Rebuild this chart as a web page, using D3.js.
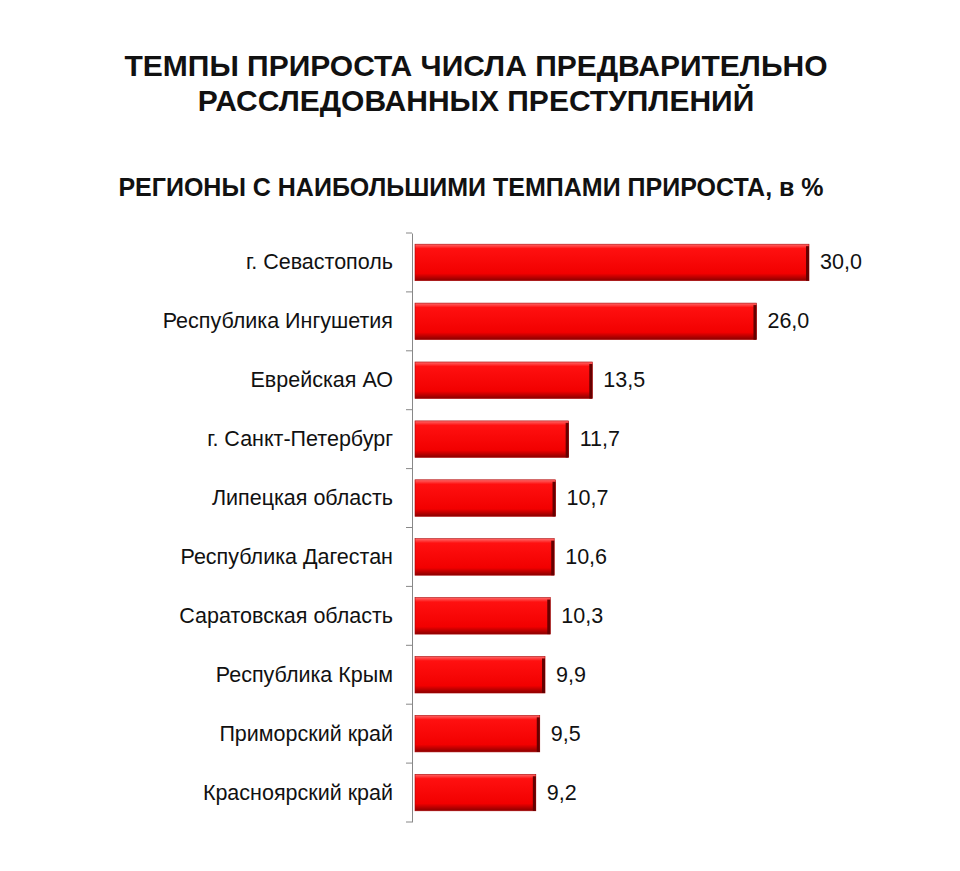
<!DOCTYPE html><html><head><meta charset="utf-8"><script src="https://cdn.jsdelivr.net/npm/d3@7"></script>
<style>body{margin:0;background:#fff}</style></head><body><svg id="c" width="960" height="871"></svg><script>
const categories=["г. Севастополь","Республика Ингушетия","Еврейская АО","г. Санкт-Петербург","Липецкая область","Республика Дагестан","Саратовская область","Республика Крым","Приморский край","Красноярский край"];
const values=[30.0,26.0,13.5,11.7,10.7,10.6,10.3,9.9,9.5,9.2];
const svg=d3.select("#c");const F="Liberation Sans, Arial, sans-serif";
const defs=svg.append("defs");
const g=defs.append("linearGradient").attr("id","bg").attr("x1",0).attr("y1",0).attr("x2",0).attr("y2",1);
[[0,"#ff6a6a"],[0.12,"#ff1010"],[0.8,"#f20000"],[1,"#8a0000"]].forEach(s=>g.append("stop").attr("offset",s[0]).attr("stop-color",s[1]));
[["ТЕМПЫ ПРИРОСТА ЧИСЛА ПРЕДВАРИТЕЛЬНО",76,30,476],["РАССЛЕДОВАННЫХ ПРЕСТУПЛЕНИЙ",111,30,476],["РЕГИОНЫ С НАИБОЛЬШИМИ ТЕМПАМИ ПРИРОСТА, в %",196,25,471]].forEach(t=>
svg.append("text").attr("x",t[3]).attr("y",t[1]).attr("text-anchor","middle").attr("font-family",F).attr("font-weight","bold").attr("font-size",t[2]).attr("fill","#111").text(t[0]));
const x=d3.scaleLinear().domain([0,30]).range([415,809]);
const y=d3.scaleBand().domain(categories).range([233,822]).paddingInner(0.38).paddingOuter(0.19);
const ax=svg.append("g").attr("transform","translate(412,0)").call(d3.axisLeft(y).tickSize(0).tickFormat(""));
ax.select(".domain").attr("stroke","#888");
d3.range(categories.length+1).forEach(i=>{const yy=233+i*(589/10);svg.append("line").attr("x1",406).attr("x2",412).attr("y1",yy).attr("y2",yy).attr("stroke","#888");});
svg.selectAll("rect.b").data(values).join("rect").attr("x",x(0)).attr("y",(d,i)=>y(categories[i])).attr("width",d=>x(d)-x(0)).attr("height",y.bandwidth()).attr("fill","url(#bg)").attr("stroke","#a00").attr("stroke-width",0.6);
svg.selectAll("rect.s").data(values).join("rect").attr("x",d=>x(d)-3).attr("y",(d,i)=>y(categories[i])+2).attr("width",3).attr("height",y.bandwidth()-2).attr("fill","#600");
svg.selectAll("text.l").data(categories).join("text").attr("x",393).attr("y",d=>y(d)+y.bandwidth()/2+7).attr("text-anchor","end").attr("font-family",F).attr("font-size",21.5).attr("fill","#111").text(d=>d);
svg.selectAll("text.v").data(values).join("text").attr("x",d=>x(d)+11).attr("y",(d,i)=>y(categories[i])+y.bandwidth()/2+7).attr("font-family",F).attr("font-size",21.5).attr("fill","#111").text(d=>d.toFixed(1).replace(".",","));
</script></body></html>
